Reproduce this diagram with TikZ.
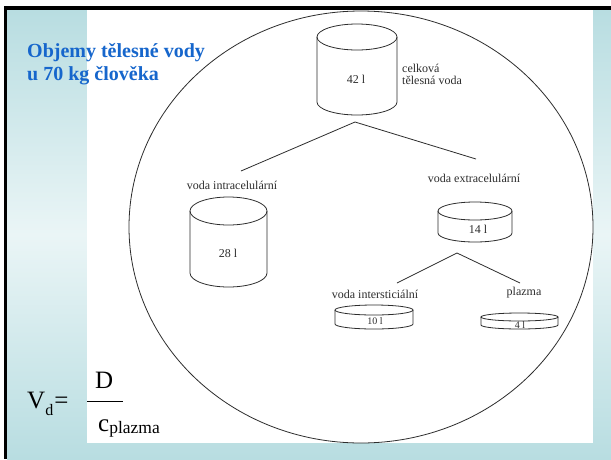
\documentclass[tikz,border=0pt]{standalone}
\usepackage{fontspec}
\setmainfont{Liberation Serif}
\usetikzlibrary{positioning}

\definecolor{titleblue}{RGB}{22,102,204}
\definecolor{slidecyan}{RGB}{184,221,225}
\definecolor{slidelight}{RGB}{234,245,246}
\definecolor{inkgray}{RGB}{45,45,45}

\tikzset{
	label text/.style={font=\fontsize{12}{12}\selectfont, text=inkgray, inner sep=0pt},
	small text/.style={font=\fontsize{10}{10}\selectfont, text=inkgray, inner sep=0pt},
	title text/.style={font=\fontsize{20}{20}\selectfont\bfseries, text=titleblue, inner sep=0pt},
	formula text/.style={font=\fontsize{25}{25}\selectfont, inner sep=0pt},
	tank/.style={draw=inkgray, line width=0.8pt},
	branch/.style={draw=inkgray, line width=0.8pt}
}

\begin{document}
\begin{tikzpicture}[x=1pt, y=-1pt]
		\useasboundingbox (0,0) rectangle (611,459);
		% slide background
		\fill[white] (0,0) rectangle (611,459);
		\shade[top color=slidecyan, bottom color=slidecyan, middle color=slidelight] (7,10) rectangle (611,459);
		\fill[white] (87,10) rectangle (593,443);
		\fill[black] (4,6) rectangle (611,10);
		\fill[black] (4,6) rectangle (7,459);
		\draw[draw=inkgray, line width=0.8pt] (361,227) ellipse [x radius=232, y radius=216];
		% title
		\node[title text, anchor=base west] (title1) at (27,57) {Objemy tělesné vody};
		\node[title text, anchor=base west] (title2) at (27,80) {u 70 kg člověka};
		% cylinders
		\draw[tank] (357,37) ellipse [x radius=40, y radius=13];
		\draw[tank] (317,37) -- (317,102) arc[start angle=180, end angle=0, x radius=40, y radius=13] -- (397,37);
		\node[label text] (v42) at (356,79) {42 l};
		\draw[tank] (228.5,211) ellipse [x radius=38.5, y radius=14];
		\draw[tank] (190,211) -- (190,273) arc[start angle=180, end angle=0, x radius=38.5, y radius=14] -- (267,211);
		\node[label text] (v28) at (228,253) {28 l};
		\draw[tank] (475,211) ellipse [x radius=37, y radius=9];
		\draw[tank] (438,211) -- (438,233) arc[start angle=180, end angle=0, x radius=37, y radius=9] -- (512,211);
		\node[label text] (v14) at (478,229) {14 l};
		\draw[tank] (374,310) ellipse [x radius=39, y radius=5];
		\draw[tank] (335,310) -- (335,324) arc[start angle=180, end angle=0, x radius=39, y radius=5] -- (413,310);
		\node[small text] (v10) at (375,321) {10 l};
		\draw[tank] (519.5,317) ellipse [x radius=38.5, y radius=4];
		\draw[tank] (481,317) -- (481,325) arc[start angle=180, end angle=0, x radius=38.5, y radius=4] -- (558,317);
		\node[small text] (v4) at (520,325) {4 l};
		% labels
		\node[label text, anchor=west] (total1) at (402,68) {celková};
		\node[label text, anchor=west] (total2) at (402,80) {tělesná voda};
		\node[label text] (intra) at (232,185) {voda intracelulární};
		\node[label text] (extra) at (474,178) {voda extracelulární};
		\node[label text] (inter) at (375,294) {voda intersticiální};
		\node[label text] (plasma) at (524,293) {plazma};
		% branches
		\coordinate (fork1) at (355,122);
		\coordinate (fork1l) at (241,171);
		\coordinate (fork1r) at (476,159);
		\coordinate (fork2) at (457,253);
		\coordinate (fork2l) at (397,283);
		\coordinate (fork2r) at (520,283);
		\draw[branch] (fork1l) -- (fork1) -- (fork1r);
		\draw[branch] (fork2l) -- (fork2) -- (fork2r);
		% formula
		\node[formula text, anchor=base west] (vd) at (27,408) {V\raisebox{-7pt}{\fontsize{16}{16}\selectfont d}\kern1pt=};
		\node[formula text, anchor=base west] (dose) at (95,388) {D};
		\coordinate (barl) at (87,401);
		\coordinate (barr) at (123,401);
		\draw[line width=0.8pt] (barl) -- (barr);
		\node[formula text, anchor=base west] (conc) at (98,431) {c\raisebox{-2pt}{\fontsize{17.5}{17.5}\selectfont plazma}};
	\end{tikzpicture}
\end{document}
